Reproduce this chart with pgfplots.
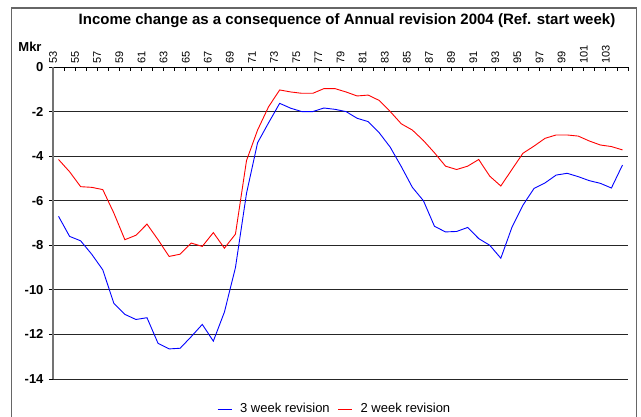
\documentclass[border=0pt]{standalone}
\usepackage{pgfplots}
\pgfplotsset{compat=1.18}
\usepackage{fontspec}
\setmainfont{Liberation Sans}
\pgfplotstableread{
w v
53 -6.7
54 -7.6
55 -7.8
56 -8.4
57 -9.1
58 -10.6
59 -11.1
60 -11.33
61 -11.25
62 -12.4
63 -12.65
64 -12.62
65 -12.1
66 -11.55
67 -12.3
68 -11.0
69 -9.0
70 -5.67
71 -3.4
72 -2.5
73 -1.63
74 -1.85
75 -2.0
76 -2.0
77 -1.84
78 -1.9
79 -2.0
80 -2.3
81 -2.45
82 -2.95
83 -3.6
84 -4.47
85 -5.4
86 -6.0
87 -7.15
88 -7.4
89 -7.38
90 -7.2
91 -7.7
92 -8.0
93 -8.58
94 -7.2
95 -6.2
96 -5.45
97 -5.2
98 -4.85
99 -4.77
100 -4.92
101 -5.1
102 -5.22
103 -5.43
104 -4.4
}\threeweek
\pgfplotstableread{
w v
53 -4.15
54 -4.7
55 -5.37
56 -5.4
57 -5.5
58 -6.55
59 -7.75
60 -7.55
61 -7.05
62 -7.75
63 -8.5
64 -8.4
65 -7.9
66 -8.05
67 -7.43
68 -8.13
69 -7.5
70 -4.2
71 -2.83
72 -1.78
73 -1.03
74 -1.12
75 -1.18
76 -1.18
77 -0.97
78 -0.97
79 -1.12
80 -1.3
81 -1.26
82 -1.5
83 -2.0
84 -2.55
85 -2.83
86 -3.3
87 -3.85
88 -4.45
89 -4.6
90 -4.45
91 -4.15
92 -4.9
93 -5.34
94 -4.6
95 -3.87
96 -3.55
97 -3.2
98 -3.05
99 -3.05
100 -3.1
101 -3.32
102 -3.5
103 -3.57
104 -3.72
}\twoweek
\begin{document}
\begin{tikzpicture}[x=1pt,y=1pt]
\useasboundingbox (0,0) rectangle (641,416);
\draw[black!60, line width=1.3pt] (11.5,-2) -- (11.5,408) -- (636.5,408) -- (636.5,-2);
\node[font=\bfseries\fontsize{15}{15}\selectfont, inner sep=0pt] at (347,395) {Income change as a consequence of Annual revision 2004 (Ref. start week)};
\node[font=\bfseries\fontsize{13}{13}\selectfont, inner sep=0pt] at (30,369) {Mkr};
\begin{axis}[
  at={(53pt,37pt)}, anchor=south west,
  scale only axis, width=575pt, height=312pt,
  xmin=52.5, xmax=104.5, ymin=-14, ymax=0,
  axis x line*=top, axis y line*=left,
  x axis line style={black, line width=0.9pt},
  y axis line style={black!55, line width=1.2pt},
  tick align=inside,
  xtick={53,55,...,103},
  minor xtick={52.5,53.5,...,104.5},
  major x tick style={draw=none},
  minor x tick style={black, line width=0.8pt},
  minor tick length=4pt,
  major tick length=4pt,
  major y tick style={black, line width=0.8pt, xshift=-4pt},
  /pgf/number format/assume math mode=true,
  xticklabel style={rotate=90, anchor=west, font=\fontsize{11}{11}\selectfont, yshift=5.5pt},
  ytick={-14,-12,...,0},
  yticklabels={-14,-12,-10,-8,-6,-4,-2,0},
  yticklabel style={font=\bfseries\fontsize{13}{13}\selectfont, xshift=-6pt},
  ymajorgrids, grid style={black!85, line width=0.9pt},
  legend columns=2,
  legend style={draw=none, at={(0.49,-0.096)}, anchor=center, font=\fontsize{13}{13}\selectfont, column sep=6pt, inner sep=0pt},
  legend image code/.code={\draw[#1] (0pt,0pt) -- (14pt,0pt);},
  clip=false,
]
\addplot[blue, line width=0.9pt] table[x=w, y=v] {\threeweek};
\addlegendentry{3 week revision}
\addplot[red, line width=0.9pt] table[x=w, y=v] {\twoweek};
\addlegendentry{2 week revision}
\end{axis}
\end{tikzpicture}
\end{document}
